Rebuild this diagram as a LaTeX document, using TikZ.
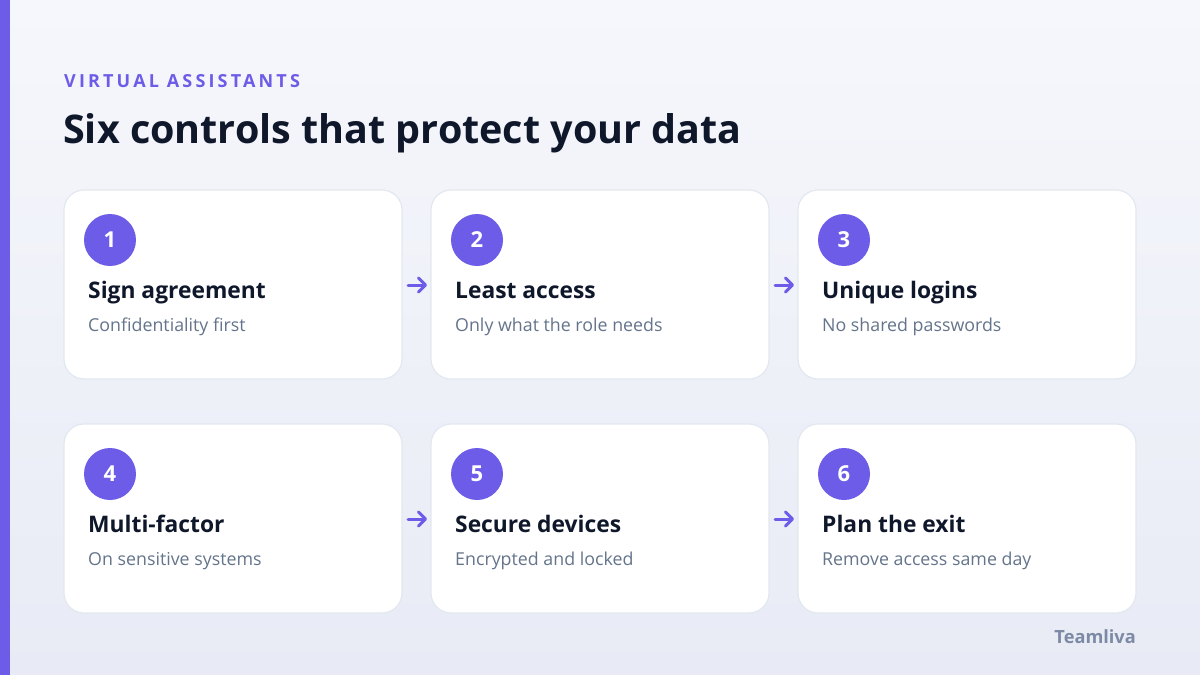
\documentclass[tikz,border=0pt]{standalone}
\usepackage{fontspec}
\setmainfont{Open Sans}
\usetikzlibrary{arrows.meta,calc}
\definecolor{accent}{HTML}{6C5CE7}
\definecolor{ink}{HTML}{0F172A}
\definecolor{muted}{HTML}{64748B}
\definecolor{cardline}{HTML}{E2E8F0}
\definecolor{bgA}{HTML}{F6F7FC}
\definecolor{bgB}{HTML}{E8EBF5}
\definecolor{brand}{HTML}{7C8AA5}
\tikzset{
  card/.style={draw=cardline, line width=1.2pt, fill=white, rounded corners=20pt},
  badge/.style={circle, fill=accent, minimum size=52pt, inner sep=0pt, text=white, font=\fontsize{22}{26}\selectfont\bfseries},
  ctitle/.style={anchor=base west, inner sep=0pt, text=ink, font=\fontsize{22.8}{26}\selectfont\bfseries},
  csub/.style={anchor=base west, inner sep=0pt, text=muted, font=\fontsize{17.8}{20}\selectfont},
  flow/.style={draw=accent, line width=3pt, line cap=round, -{Straight Barb[length=7pt,width=14pt,line cap=round,line join=round]}},
}
\begin{document}
\begin{tikzpicture}[x=1pt,y=-1pt]
\useasboundingbox (0,0) rectangle (1200,675);
\shade[left color=bgA, right color=bgB, shading angle=0] (0,0) rectangle (1200,675);
\fill[accent] (0,0) rectangle (10,675);
\node[anchor=base west, inner sep=0pt, text=accent, font=\fontsize{18}{20}\selectfont\bfseries\addfontfeature{LetterSpace=17.5}] (kicker) at (64,87) {VIRTUAL ASSISTANTS};
\node[anchor=base west, inner sep=0pt, text=ink, font=\fontsize{39.5}{46}\selectfont\bfseries] (title) at (63,143) {Six controls that protect your data};
% cards
\foreach \i/\x/\y/\t/\s in {
  1/64/190/Sign agreement/Confidentiality first,
  2/431/190/Least access/Only what the role needs,
  3/798/190/Unique logins/No shared passwords,
  4/64/424/Multi-factor/On sensitive systems,
  5/431/424/Secure devices/Encrypted and locked,
  6/798/424/Plan the exit/Remove access same day}{
  \draw[card] (\x,\y) rectangle ++(338,189);
  \node[badge] (b\i) at ($(\x,\y)+(46,50)$) {\i};
  \node[ctitle] (t\i) at ($(\x,\y)+(24,108)$) {\t};
  \node[csub] (s\i) at ($(\x,\y)+(24,141)$) {\s};
  \coordinate (L\i) at ($(\x,\y)+(-23,95)$);
  \coordinate (R\i) at ($(\x,\y)+(-4,95)$);
}
\draw[flow] (L2) -- (R2);
\draw[flow] (L3) -- (R3);
\draw[flow] (L5) -- (R5);
\draw[flow] (L6) -- (R6);
\node[anchor=base east, inner sep=0pt, text=brand, font=\fontsize{18.2}{20}\selectfont\bfseries] (brandname) at (1136,643) {Teamliva};
\end{tikzpicture}
\end{document}
